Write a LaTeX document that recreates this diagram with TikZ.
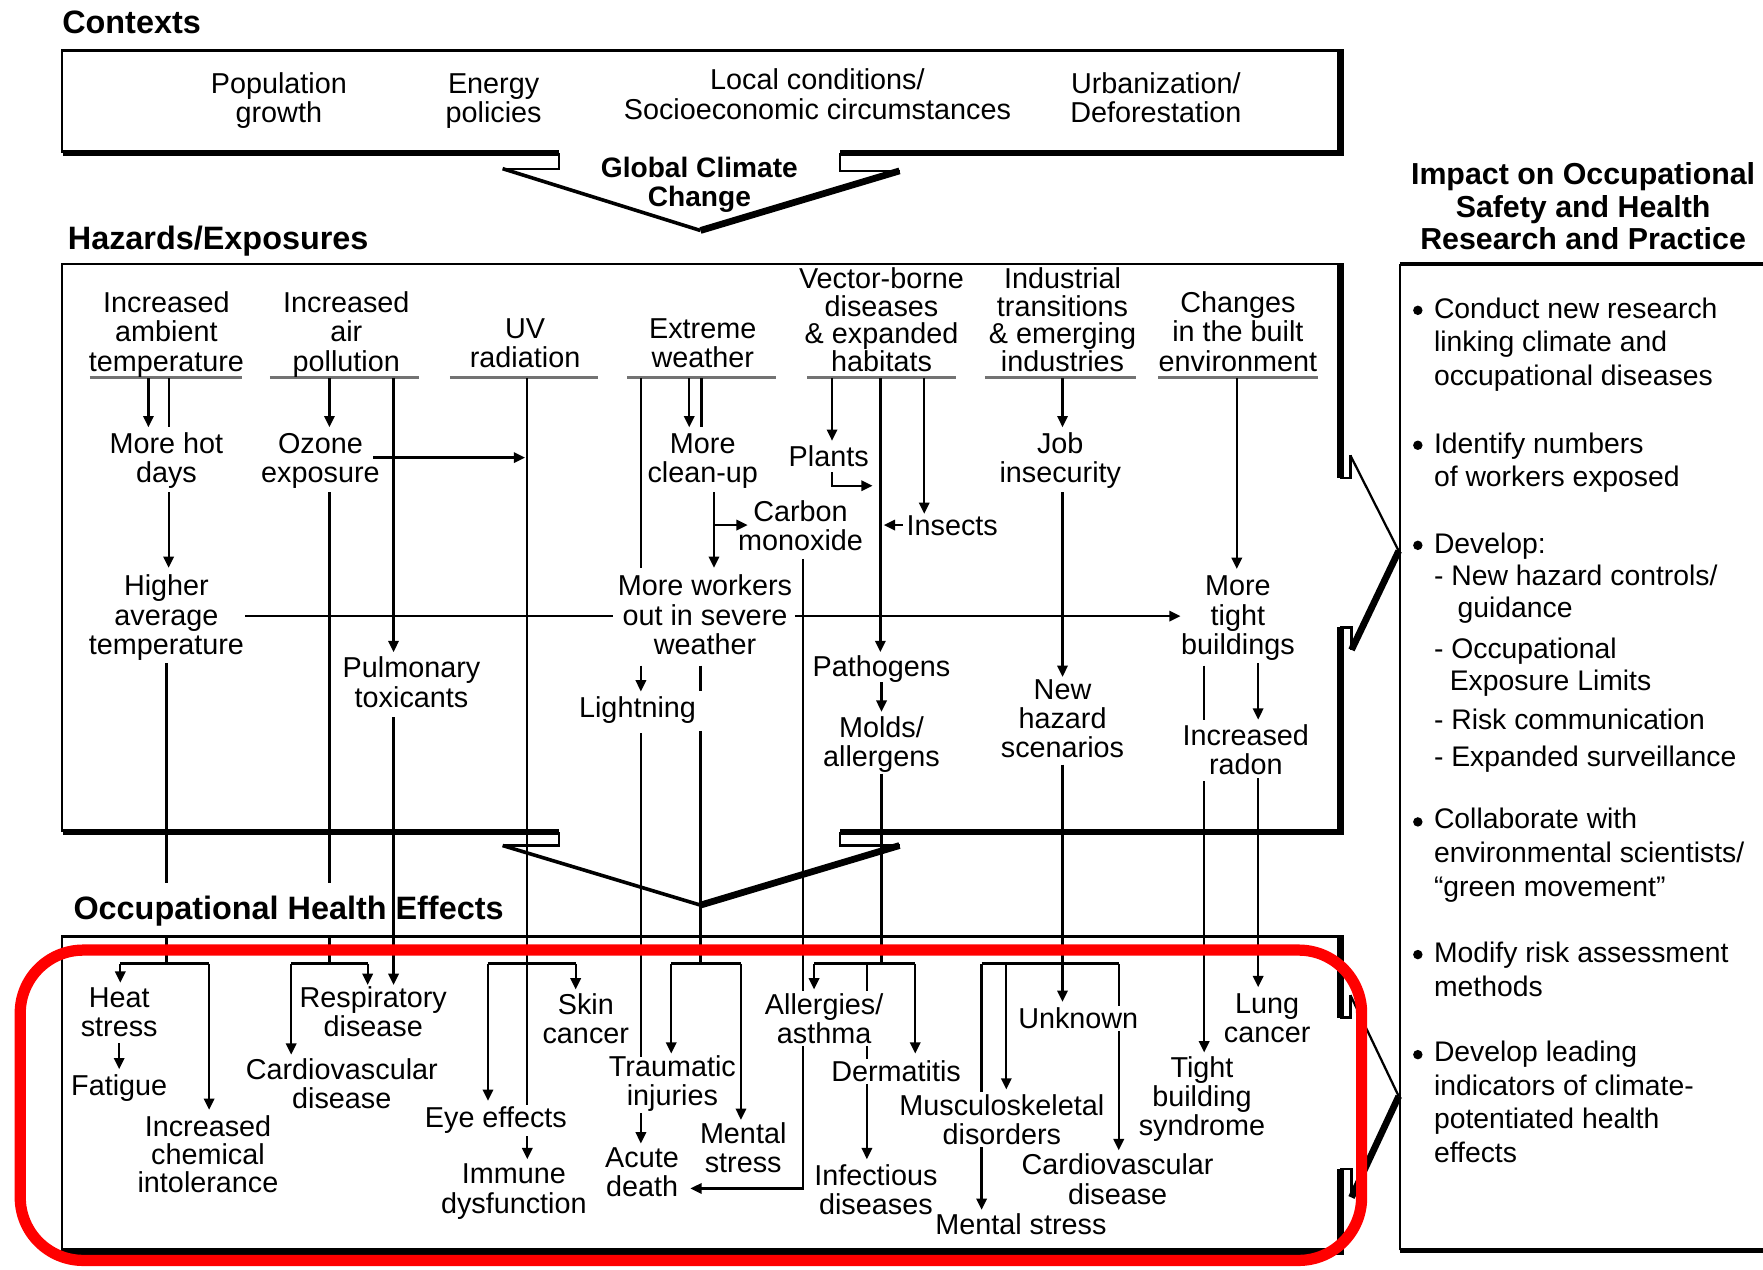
\documentclass[tikz,border=0pt]{standalone}
\usepackage{fontspec}
\setmainfont{Liberation Sans}
\usetikzlibrary{arrows.meta}
\begin{document}
\begin{tikzpicture}[x=0.5pt,y=-0.5pt,
  lbl/.style={font=\fontsize{12.8pt}{13pt}\selectfont, align=center, anchor=base, inner sep=1pt},
  tlbl/.style={lbl, font=\fontsize{12.8pt}{12.2pt}\selectfont},
  wlbl/.style={lbl, fill=white},
  ttl/.style={font=\fontsize{14.4pt}{15pt}\selectfont\bfseries, anchor=base west, inner sep=0pt},
  rtxt/.style={font=\fontsize{12.6pt}{15pt}\selectfont, align=left, anchor=base west, inner sep=0pt},
  ln/.style={line width=1pt},
  arr/.style={ln, -{Triangle[length=5pt,width=4.6pt]}},
  thinb/.style={line width=1pt},
  midb/.style={line width=1.6pt},
  thickb/.style={line width=3pt},
  uline/.style={line width=1.3pt, black!55},
  bul/.style={fill=black}
  ]
\path[use as bounding box] (0,0) rectangle (1568,1129);
\clip (0,0) rectangle (1568,1129);

% ---------- titles
\node[ttl] (tctx) at (55,30) {Contexts};
\node[ttl] (thaz) at (60,222) {Hazards/Exposures};
\node[ttl] (tocc) at (65,818) {Occupational Health Effects};
\node[font=\fontsize{13.5pt}{14.5pt}\selectfont\bfseries, align=center, anchor=base, inner sep=0pt] (timp) at (1408,222) {Impact on Occupational\\Safety and Health\\Research and Practice};

% ---------- contexts box
\draw[thinb] (55,136)--(55,45)--(1192,45);
\draw[thickb] (1192,44)--(1192,136)--(747,136);
\draw[thickb] (497,136)--(56,136);
\draw[thinb] (497,136)--(497,150)--(447,150);
\draw[midb] (447,150)--(623,205);
\draw[thickb] (623,205)--(800,152);
\draw[thinb] (800,152)--(747,152)--(747,136);

\node[lbl] (pop) at (248,109) {Population\\growth};
\node[lbl] (ene) at (439,109) {Energy\\policies};
\node[lbl] (loc) at (727,106) {Local conditions/\\Socioeconomic circumstances};
\node[lbl] (urb) at (1028,109) {Urbanization/\\Deforestation};
\node[font=\fontsize{12.5pt}{13pt}\selectfont\bfseries, align=center, anchor=base, inner sep=0pt] (gcc) at (622,184) {Global Climate\\Change};

% ---------- hazards box
\draw[thinb] (55,740)--(55,235)--(1192,235);
\draw[thickb] (1192,234)--(1192,425);
\draw[thinb] (1192,425)--(1201,425)--(1201,405);
\draw[thinb] (1201,405)--(1244,490);
\draw[thickb] (1244,490)--(1202,578);
\draw[thinb] (1202,578)--(1202,558)--(1192,558);
\draw[thickb] (1192,558)--(1192,740)--(747,740);
\draw[thickb] (497,740)--(56,740);
\draw[thinb] (497,740)--(497,752)--(447,752);
\draw[midb] (447,752)--(623,805);
\draw[thickb] (623,805)--(800,752);
\draw[thinb] (800,752)--(747,752)--(747,740);

% ---------- occupational box
\draw[thinb] (55,1113)--(55,833)--(1192,833);
\draw[thickb] (1192,832)--(1192,905);
\draw[thinb] (1192,905)--(1201,905)--(1201,885);
\draw[thinb] (1201,885)--(1244,975);
\draw[thickb] (1244,975)--(1202,1065);
\draw[thinb] (1202,1065)--(1202,1040)--(1192,1040);
\draw[thickb] (1192,1040)--(1192,1113)--(56,1113);

% ---------- impact box
\draw[thinb] (1245,1112)--(1245,235);
\draw[midb] (1245,235)--(1580,235);
\draw[line width=2pt] (1245,1112)--(1580,1112);

% ---------- underlines of headers
\foreach \a/\b in {80/215,240/373,400/532,558/690,718/850,876/1010,1030/1172}
  \draw[uline] (\a,336)--(\b,336);

% ---------- connectors in hazards box
\draw[arr] (132,336)--(132,380);
\draw[ln] (150,336)--(150,380);
\draw[arr] (150,438)--(150,505);
\draw[ln] (148,590)--(148,785);
\draw[ln] (148,833)--(148,857);
\draw[arr] (293,336)--(293,380);
\draw[arr] (350,336)--(350,580);
\draw[arr] (332,407)--(467,407);
\draw[ln] (293,438)--(293,785);
\draw[ln] (293,833)--(293,857);
\draw[arr] (350,638)--(350,876);
\draw[arr] (469,336)--(469,1031);
\draw[ln] (570,336)--(570,505);
\draw[arr] (613,336)--(613,380);
\draw[ln] (624,336)--(624,380);
\draw[arr] (635,438)--(635,505);
\draw[arr] (635,467)--(665,467);
\draw[ln] (218,548)--(545,548);
\draw[arr] (707,548)--(1050,548);
\draw[arr] (570,592)--(570,615);
\draw[ln] (623,592)--(623,615);
\draw[ln] (623,650)--(623,857);
\draw[ln] (570,652)--(570,940);
\draw[arr] (570,990)--(570,1017);
\draw[arr] (714,497)--(714,1057)--(614,1057);
\draw[arr] (740,336)--(740,392);
\draw[arr] (783,336)--(783,580);
\draw[arr] (822,336)--(822,457);
\draw[arr] (740,420)--(740,432)--(776,432);
\draw[arr] (803,467)--(786,467);
\draw[arr] (784,607)--(784,633);
\draw[ln] (784,688)--(784,857);
\draw[arr] (945,336)--(945,380);
\draw[arr] (945,438)--(945,602);
\draw[arr] (945,680)--(945,891);
\draw[arr] (1100,336)--(1100,506);
\draw[ln] (1071,592)--(1071,640);
\draw[arr] (1119,590)--(1119,640);
\draw[arr] (1071,695)--(1071,936);
\draw[arr] (1119,692)--(1119,878);

% ---------- brackets in occupational box
\draw[ln] (107,857)--(186,857);
\draw[arr] (107,857)--(107,874);
\draw[arr] (186,857)--(186,987);
\draw[arr] (106,928)--(106,951);
\draw[ln] (259,857)--(327,857);
\draw[arr] (259,857)--(259,938);
\draw[arr] (327,857)--(327,876);
\draw[ln] (434,857)--(512,857);
\draw[arr] (434,857)--(434,979);
\draw[arr] (512,857)--(512,880);
\draw[ln] (597,857)--(659,857);
\draw[arr] (597,857)--(597,937);
\draw[arr] (659,857)--(659,996);
\draw[ln] (724,857)--(814,857);
\draw[arr] (724,857)--(724,880);
\draw[arr] (814,857)--(814,937);
\draw[arr] (771,857)--(771,1031);
\draw[ln] (873,857)--(995,857);
\draw[arr] (873,857)--(873,1076);
\draw[arr] (895,857)--(895,969);
\draw[arr] (995,857)--(995,1023);

% ---------- hazard labels
\node[lbl] (amb) at (148,330) {Increased\\ambient\\temperature};
\node[lbl] (air) at (308,330) {Increased\\air\\pollution};
\node[lbl] (uv) at (467,327) {UV\\radiation};
\node[lbl] (ext) at (625,327) {Extreme\\weather};
\node[tlbl] (vec) at (784,330) {Vector-borne\\diseases\\\& expanded\\habitats};
\node[tlbl] (ind) at (945,330) {Industrial\\transitions\\\& emerging\\industries};
\node[lbl] (chg) at (1101,330) {Changes\\in the built\\environment};

\node[lbl] (hot) at (148,429) {More hot\\days};
\node[lbl] (ozo) at (285,429) {Ozone\\exposure};
\node[lbl] (cln) at (625,429) {More\\clean-up};
\node[lbl] (pla) at (737,415) {Plants};
\node[lbl] (job) at (943,429) {Job\\insecurity};
\node[lbl] (co) at (712,490) {Carbon\\monoxide};
\node[lbl, anchor=base west] (ins) at (804,476) {Insects};

\node[lbl] (hat) at (148,582) {Higher\\average\\temperature};
\node[lbl] (wrk) at (627,582) {More workers\\out in severe\\weather};
\node[lbl] (tgt) at (1101,582) {More\\tight\\buildings};
\node[lbl] (pul) at (366,629) {Pulmonary\\toxicants};
\node[lbl] (pat) at (784,602) {Pathogens};
\node[lbl] (lig) at (567,638) {Lightning};
\node[lbl] (mol) at (784,682) {Molds/\\allergens};
\node[lbl] (nhs) at (945,674) {New\\hazard\\scenarios};
\node[lbl] (rad) at (1108,689) {Increased\\radon};

% ---------- health effects
\node[lbl] (hs) at (106,922) {Heat\\stress};
\node[lbl] (fat) at (106,974) {Fatigue};
\node[lbl, font=\fontsize{12.8pt}{12.5pt}\selectfont] (ici) at (185,1061) {Increased\\chemical\\intolerance};
\node[lbl] (rd) at (332,922) {Respiratory\\disease};
\node[lbl] (cvd) at (304,986) {Cardiovascular\\disease};
\node[lbl] (sc) at (521,928) {Skin\\cancer};
\node[wlbl] (eye) at (441,1003) {Eye effects};
\node[lbl] (imm) at (457,1079) {Immune\\dysfunction};
\node[lbl] (tra) at (598,983) {Traumatic\\injuries};
\node[lbl] (acd) at (571,1064) {Acute\\death};
\node[lbl] (mes) at (661,1043) {Mental\\stress};
\node[wlbl] (all) at (733,928) {Allergies/\\asthma};
\node[wlbl] (der) at (797,962) {Dermatitis};
\node[lbl] (inf) at (779,1080) {Infectious\\diseases};
\node[wlbl] (msk) at (891,1018) {Musculoskeletal\\disorders};
\node[lbl] (ms2) at (908,1098) {Mental stress};
\node[wlbl] (unk) at (959,915) {Unknown};
\node[lbl] (cv2) at (994,1071) {Cardiovascular\\disease};
\node[lbl] (tbs) at (1069,1010) {Tight\\building\\syndrome};
\node[lbl] (lc) at (1127,927) {Lung\\cancer};

% ---------- impact list
\foreach \y in {276,396,485,731,849,938} \fill[bul] (1261,\y) circle (4.2);
\node[rtxt] (b1) at (1275,343) {Conduct new research\\linking climate and\\occupational diseases};
\node[rtxt] (b2) at (1275,433) {Identify numbers\\of workers exposed};
\node[rtxt] (b3) at (1275,492) {Develop:};
\node[rtxt] (d1) at (1275,521) {- New hazard controls/};
\node[rtxt] (d1b) at (1296,549) {guidance};
\node[rtxt] (d2) at (1275,586) {- Occupational};
\node[rtxt] (d2b) at (1289,614) {Exposure Limits};
\node[rtxt] (d3) at (1275,649) {- Risk communication};
\node[rtxt] (d4) at (1275,682) {- Expanded surveillance};
\node[rtxt] (b4) at (1275,797) {Collaborate with\\environmental scientists/\\“green movement”};
\node[rtxt] (b5) at (1275,886) {Modify risk assessment\\methods};
\node[rtxt] (b6) at (1275,1034) {Develop leading\\indicators of climate-\\potentiated health\\effects};

% ---------- red highlight
\draw[red, line width=5pt, rounded corners=28pt] (18,845) rectangle (1211,1121);
\end{tikzpicture}
\end{document}
